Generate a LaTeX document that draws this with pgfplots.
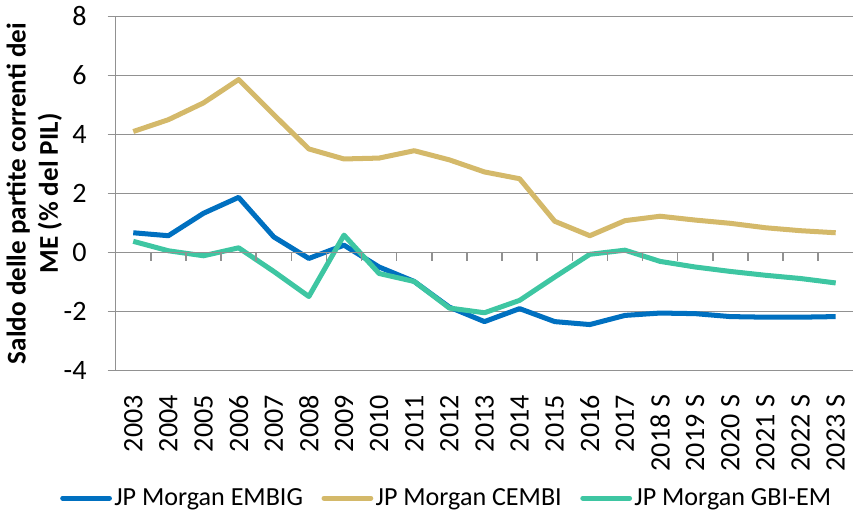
\documentclass[border=0pt]{standalone}
\usepackage{fontspec}
\setmainfont{Carlito}
\usepackage{pgfplots}
\pgfplotsset{compat=1.18}

\definecolor{embig}{RGB}{0,112,192}
\definecolor{cembi}{RGB}{212,185,106}
\definecolor{gbiem}{RGB}{62,198,162}
\definecolor{axgray}{RGB}{145,145,145}

\begin{document}
\begin{tikzpicture}[font=\fontsize{14}{16}\selectfont]
\begin{axis}[
    scale only axis,
    width=367.5pt, height=176.5pt,
    xmin=-0.5, xmax=20.5, ymin=-4, ymax=8,
    ytick={-4,-2,...,8},
    xtick={0,...,20},
    xticklabels={2003,2004,2005,2006,2007,2008,2009,2010,2011,2012,2013,2014,2015,2016,2017,2018 S,2019 S,2020 S,2021 S,2022 S,2023 S},
    x tick label style={rotate=90, anchor=east, inner sep=0pt, xshift=-8pt},
    y tick label style={xshift=-7pt},
    axis x line*=bottom, axis y line*=left,
    x axis line style={draw=none},
    major x tick style={draw=none},
    y axis line style={axgray, line width=0.75pt},
    y tick style={axgray, line width=0.75pt},
    ymajorgrids,
    grid style={axgray, line width=0.75pt},
    tick align=outside, major tick length=4pt,
    ylabel style={align=center, font=\fontsize{13.5}{16}\selectfont\bfseries, yshift=-6pt},
    ylabel={Saldo delle partite correnti dei\\ME (\% del PIL)},
    /pgf/number format/assume math mode=true,
    legend style={at={(0.449,-0.36)}, anchor=center, draw=none,
        legend columns=3, inner sep=0pt, font=\fontsize{13}{16}\selectfont,
        /tikz/every even column/.append style={column sep=8pt},
        nodes={inner sep=1.2pt}},
    legend image code/.code={\draw[#1, line width=2.5pt, line cap=round] (1.2pt,0) -- (24.5pt,0);},
    every axis plot/.append style={line width=2.5pt, mark=none, line join=round},
]
% JP Morgan EMBIG
\addplot[embig] coordinates {
 (0,0.67) (1,0.57) (2,1.33) (3,1.87) (4,0.53) (5,-0.20) (6,0.25) (7,-0.49)
 (8,-0.98) (9,-1.85) (10,-2.34) (11,-1.90) (12,-2.34) (13,-2.44) (14,-2.13)
 (15,-2.05) (16,-2.07) (17,-2.17) (18,-2.19) (19,-2.19) (20,-2.17)};
\addlegendentry{JP Morgan EMBIG}
% JP Morgan CEMBI
\addplot[cembi] coordinates {
 (0,4.10) (1,4.50) (2,5.07) (3,5.86) (4,4.67) (5,3.51) (6,3.17) (7,3.20)
 (8,3.45) (9,3.14) (10,2.73) (11,2.50) (12,1.06) (13,0.57) (14,1.08)
 (15,1.23) (16,1.10) (17,0.99) (18,0.84) (19,0.74) (20,0.67)};
\addlegendentry{JP Morgan CEMBI}
% JP Morgan GBI-EM
\addplot[gbiem] coordinates {
 (0,0.38) (1,0.06) (2,-0.11) (3,0.16) (4,-0.64) (5,-1.49) (6,0.59) (7,-0.71)
 (8,-0.98) (9,-1.88) (10,-2.04) (11,-1.62) (12,-0.83) (13,-0.06) (14,0.08)
 (15,-0.30) (16,-0.49) (17,-0.64) (18,-0.77) (19,-0.88) (20,-1.03)};
\addlegendentry{JP Morgan GBI-EM}
\end{axis}
% zero line with category separators
\begin{axis}[
    scale only axis,
    width=367.5pt, height=176.5pt,
    xmin=-0.5, xmax=20.5, ymin=-4, ymax=8,
    axis x line=middle, axis y line=none,
    axis line style={-, axgray, line width=0.75pt},
    xtick={0.5,1.5,...,19.5}, xticklabels={},
    tick align=outside, major tick length=4pt,
    x tick style={axgray, line width=0.75pt},
]
\end{axis}
\end{tikzpicture}
\end{document}
